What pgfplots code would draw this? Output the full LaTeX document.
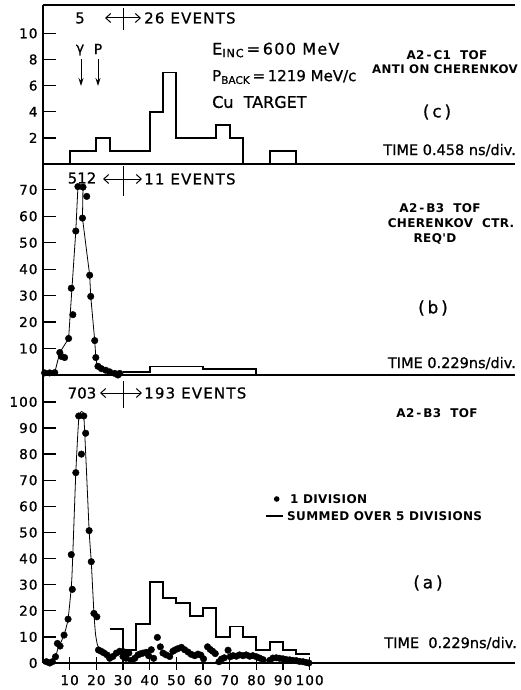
\documentclass[border=0pt]{standalone}
\usepackage{pgfplots}
\pgfplotsset{compat=1.18}
\usepackage{fontspec}
\usetikzlibrary{arrows.meta}
\setmainfont[FakeBold=0.8]{DejaVu Sans}
\newfontfamily\lsp[LetterSpace=8, FakeBold=0.8]{DejaVu Sans}
\newfontfamily\lsb[LetterSpace=3]{DejaVu Sans}
\newfontfamily\tkfam[FakeBold=1, LetterSpace=8]{DejaVu Sans}
\newcommand\tkf{\tkfam\fontsize{13.5}{14}\selectfont}

\pgfplotsset{
  tofaxis/.style={
    scale only axis, width=472pt,
    xmin=0, xmax=177, ymin=0,
    axis lines*=left,
    axis line style={line width=1.5pt, black},
    tick style={line width=1.3pt, black},
    major tick length=13pt,
    ytick align=inside,
    clip=false,
    /pgf/number format/assume math mode=true,
    tick label style={font=\tkf},
    yticklabel style={xshift=-2pt},
  },
}

\begin{document}
\begin{tikzpicture}
\path (0pt,0pt) rectangle (520pt,-690pt);

% ---------------- panel (a)
\begin{axis}[tofaxis, at={(43pt,-663pt)}, anchor=south west, height=288pt,
  ymax=110.3, ytick={0,10,20,30,40,50,60,70,80,90,100},
  yticklabels={0,10,20,30,40,50,60,70,80,90,100},
  xtick={10,20,30,40,50,60,70,80,90,100},
  xticklabels={10,20,30,40,50,60,70,80,90,100},
  xtick align=center, xticklabel style={yshift=-2pt}]
\addplot[const plot, line width=1.8pt] coordinates {
 (25,13) (30,5) (35,15) (40,31) (45,25) (50,23) (55,18) (60,21) (65,10)
 (70,14) (75,10) (80,5) (85,8) (90,5) (95,3.5) (100,3.5)};
\addplot[smooth, tension=0.25, line width=0.8pt] coordinates {
 (1.5,0) (3,0.5) (4.7,2.4) (5.6,5.5) (7.9,10.7) (9.4,16.8) (10.8,32)
 (12.3,72.9) (13.5,94.6) (15.3,94.6) (17.3,50.7) (18.1,38.8) (19.1,19)
 (19.7,11) (20.4,7) (21.5,4.5)};
\addplot[only marks, mark=*, mark size=3.3pt] coordinates {
 (1.3,0.5) (2.5,0) (3.5,0.5) (4.7,2.4) (5.4,7.5) (6.4,6.5) (7.9,10.7) (9.4,16.8)
 (10.6,41.5) (11.0,28.2) (12.3,72.9) (13.4,94.6) (14.4,80) (15.3,94.6) (16.0,88)
 (17.3,50.7) (18.1,38.8) (19.1,19.0) (20.2,17.7) (20.8,5.0) (21.8,4.5) (22.8,3.9)
 (24.0,3.1) (25.0,1.8) (26.2,2.5) (27.5,3.8) (28.8,4.5) (30.0,2.5) (30.6,4.2)
 (31.2,1.8) (32.2,3.8) (33.1,1.0) (34.4,1.8) (35.6,3.1) (36.5,3.5) (37.5,3.8)
 (38.7,4.1) (39.6,2.8) (40.6,5.1) (41.5,1.8) (42.9,9.8) (44.0,6.2) (45.0,3.8)
 (46.2,3.1) (47.5,2.5) (48.7,4.5) (49.5,5.0) (50.6,5.5) (51.9,6.0) (53.1,5.1)
 (54.4,4.2) (55.6,3.3) (56.9,2.8) (58.1,3.4) (59.2,3.0) (60.2,1.6) (61.7,6.2)
 (62.7,5.2) (63.6,4.5) (64.6,3.6) (66.0,0.5) (66.9,1.5) (68.0,2.0) (69.4,4.9)
 (70.2,2.4) (71.3,2.8) (72.5,2.6) (73.7,3.1) (75.0,2.8) (76.2,3.1) (77.5,2.6)
 (78.7,2.8) (80.0,2.4) (81.2,1.9) (82.5,1.3) (85.0,1.0) (86.2,1.9) (87.5,2.0)
 (88.7,1.8) (90.0,1.6) (91.2,1.3) (92.5,1.2) (93.7,1.0) (95.0,0.9) (96.2,0.6)
 (97.5,0.5) (98.7,0.2) (99.7,0)};
\end{axis}

% ---------------- panel (b)
\begin{axis}[tofaxis, at={(43pt,-375pt)}, anchor=south west, height=211.7pt,
  ymax=80, ytick={10,20,30,40,50,60,70},
  yticklabels={10,20,30,40,50,60,70}, xtick=\empty]
\addplot[const plot, line width=1.8pt] coordinates {
 (30,1.2) (40,3.2) (60,2.2) (80,0) (177,0)};
\addplot[line width=0.8pt] coordinates {
 (4.4,0.9) (6.3,8.5) (9.6,13.8) (12.3,54.4) (13.1,71.2) (15,71) (14.8,59.3)
 (17.5,37.7) (17.9,29.7) (19.4,13) (19.8,6.6) (20.4,3)};
\addplot[only marks, mark=*, mark size=3.3pt] coordinates {
 (0.6,0.8) (2.5,0.8) (4.4,0.9) (6.3,8.5) (6.9,7.0) (8.1,6.6) (9.6,13.8)
 (10.6,32.8) (11.2,22.8) (12.3,54.4) (13.1,71.2) (14.8,59.3) (15.0,71.0)
 (16.4,67.5) (17.5,37.7) (17.9,29.7) (19.4,13.0) (19.8,6.6) (20.6,3.3)
 (21.9,2.4) (23.5,1.8) (25,1.2) (26.9,0.6) (28.1,0) (28.8,0.6)};
\end{axis}

% ---------------- panel (c)
\begin{axis}[tofaxis, at={(43pt,-164pt)}, anchor=south west, height=159pt,
  ymax=12.17, ytick={2,4,6,8,10}, yticklabels={2,4,6,8,10}, xtick=\empty]
\addplot[const plot, line width=1.8pt] coordinates {
 (0,0) (10,1) (20,2) (25,1) (40,4) (45,7) (50,2) (65,3) (70,2) (75,0)
 (85,1) (95,0) (177,0)};
\draw[line width=1.5pt] (rel axis cs:0,1) -- (rel axis cs:1,1);
\end{axis}

% ---------------- annotations
\begin{scope}[x=1pt,y=-1pt, every node/.style={inner sep=0pt}]
 \tikzset{dbl/.style={line width=1pt,
   {Straight Barb[length=5pt,width=9pt]}-{Straight Barb[length=5pt,width=9pt]}}}
 % (c)
 \node[font=\fontsize{15}{15}\selectfont] at (80,18) {5};
 \draw[dbl] (105,18) -- (141,18);
 \draw[line width=1pt] (123.3,8) -- (123.3,30);
 \node[anchor=west, font=\lsp\fontsize{15}{15}\selectfont] at (144,18) {26 EVENTS};
 \node[font=\fontsize{14}{14}\selectfont] at (80,50) {γ};
 \node[font=\fontsize{14}{14}\selectfont] at (98,49) {P};
 \draw[line width=1pt, -{Stealth[length=8pt,width=5pt]}] (81,59) -- (81,86);
 \draw[line width=1pt, -{Stealth[length=8pt,width=5pt]}] (98,59) -- (98,86);
 \node[anchor=west, font=\lsp\fontsize{16}{16}\selectfont] at (212,50) {E\textsubscript{INC}\,=\,600 MeV};
 \node[anchor=west, font=\fontsize{15}{15}\selectfont] at (212,77) {P\textsubscript{BACK}\,=\,1219 MeV/c};
 \node[anchor=west, font=\fontsize{16}{16}\selectfont] at (212,102) {Cu\ \ TARGET};
 \node[font=\lsb\bfseries\fontsize{12}{12}\selectfont] at (447,55) {A2\,-\,C1\ \ TOF};
 \node[font=\lsb\bfseries\fontsize{11.8}{12}\selectfont] at (445,69) {ANTI ON CHERENKOV};
 \node[font=\fontsize{17}{17}\selectfont] at (437,112) {(\,c\,)};
 \node[anchor=base east, font=\fontsize{14.5}{15}\selectfont] at (516,155) {TIME 0.458 ns/div.};
 % (b)
 \node[font=\fontsize{15}{15}\selectfont] at (82,178) {512};
 \draw[dbl] (103,179) -- (142,179);
 \draw[line width=1pt] (123.3,166) -- (123.3,196);
 \node[anchor=west, font=\lsp\fontsize{15}{15}\selectfont] at (144,179) {11 EVENTS};
 \node[font=\lsb\bfseries\fontsize{12}{12}\selectfont] at (440,208) {A2\,-\,B3\ \ TOF};
 \node[font=\lsb\bfseries\fontsize{12}{12}\selectfont] at (451,223) {CHERENKOV\ \ CTR.};
 \node[font=\lsb\bfseries\fontsize{12}{12}\selectfont] at (435,239) {REQ'D};
 \node[font=\fontsize{17}{17}\selectfont] at (433,308) {(\,b\,)};
 \node[anchor=base east, font=\fontsize{14.5}{15}\selectfont] at (516,368) {TIME 0.229ns/div.};
 % (a)
 \node[font=\fontsize{15}{15}\selectfont] at (82,393) {703};
 \draw[dbl] (100,393) -- (142,393);
 \draw[line width=1pt] (123.3,381) -- (123.3,408);
 \node[anchor=west, font=\lsp\fontsize{15}{15}\selectfont] at (144,393) {193 EVENTS};
 \node[font=\lsb\bfseries\fontsize{12}{12}\selectfont] at (437,413) {A2\,-\,B3\ \ TOF};
 \fill (276.7,499) circle (2.8);
 \node[anchor=west, font=\lsb\bfseries\fontsize{12}{12}\selectfont] at (290,499) {1 DIVISION};
 \draw[line width=1.5pt] (266,516) -- (283,516);
 \node[anchor=west, font=\lsb\bfseries\fontsize{12}{12}\selectfont] at (287,516) {SUMMED OVER 5 DIVISIONS};
 \node[font=\fontsize{17}{17}\selectfont] at (428,583) {(\,a\,)};
 \node[anchor=base east, font=\fontsize{14.5}{15}\selectfont] at (517,648) {TIME\ \ 0.229ns/div.};
\end{scope}
\end{tikzpicture}
\end{document}
